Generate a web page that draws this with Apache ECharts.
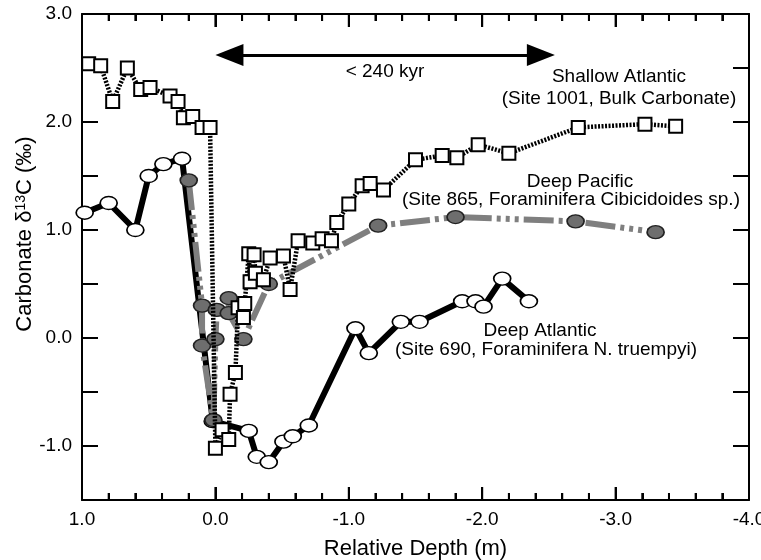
<!DOCTYPE html>
<html>
<head>
<meta charset="utf-8">
<script src="https://cdn.jsdelivr.net/npm/echarts@6/dist/echarts.min.js"></script>
<style>
  html, body { margin: 0; padding: 0; background: #fff; }
  #chart { width: 761px; height: 560px; }
</style>
</head>
<body>
<div id="chart"></div>
<script>
// Shallow Atlantic (Site 1001, bulk carbonate)
const shallowX = [0.95, 0.86, 0.77, 0.66, 0.56, 0.49, 0.34, 0.28, 0.24, 0.17, 0.10, 0.04, 0.00, -0.05, -0.10, -0.11, -0.15, -0.17, -0.21, -0.22, -0.25, -0.26, -0.29, -0.30, -0.36, -0.41, -0.51, -0.56, -0.62, -0.73, -0.80, -0.87, -0.91, -1.00, -1.10, -1.16, -1.26, -1.50, -1.70, -1.81, -1.97, -2.20, -2.72, -3.22, -3.45];
const shallowY = [2.54, 2.52, 2.19, 2.50, 2.30, 2.32, 2.24, 2.19, 2.04, 2.05, 1.95, 1.95, -1.02, -0.85, -0.94, -0.52, -0.32, 0.28, 0.19, 0.32, 0.78, 0.52, 0.77, 0.60, 0.54, 0.74, 0.76, 0.45, 0.90, 0.88, 0.92, 0.90, 1.07, 1.24, 1.41, 1.43, 1.37, 1.65, 1.69, 1.67, 1.79, 1.71, 1.95, 1.98, 1.96];

// Deep Pacific (Site 865, Cibicidoides sp.)
const pacificX = [0.20, 0.10, 0.10, 0.015, 0.00, -0.01, -0.10, -0.10, -0.21, -0.40, -1.22, -1.80, -2.70, -3.30];
const pacificY = [1.46, 0.30, -0.07, -0.76, -0.01, 0.26, 0.37, 0.23, -0.01, 0.50, 1.04, 1.12, 1.08, 0.98];

// Deep Atlantic (Site 690, N. truempyi)
const atlanticX = [0.98, 0.80, 0.60, 0.50, 0.39, 0.25, 0.02, -0.25, -0.31, -0.40, -0.51, -0.58, -0.70, -1.05, -1.15, -1.39, -1.53, -1.85, -1.95, -2.01, -2.15, -2.35];
const atlanticY = [1.16, 1.25, 1.00, 1.50, 1.61, 1.66, -0.77, -0.86, -1.10, -1.15, -0.96, -0.91, -0.81, 0.09, -0.14, 0.15, 0.15, 0.34, 0.34, 0.29, 0.55, 0.34];

// Axis ticks (values)
const xMajorTicks = [1, 0, -1, -2, -3, -4];
const xMinorTicks = [0.8, 0.6, 0.4, 0.2, -0.2, -0.4, -0.6, -0.8, -1.2, -1.4, -1.6, -1.8, -2.2, -2.4, -2.6, -2.8, -3.2, -3.4, -3.6, -3.8];
const yTicks = [-1.5, -1, -0.5, 0, 0.5, 1, 1.5, 2, 2.5, 3];

// Arrow annotation (< 240 kyr), in data units (triangle heads are centred on these ends)
const arrowFromX = -0.105, arrowToX = -2.44, arrowY = 2.62;

const xMin = -4, xMax = 1, xInterval = 1;
const yMin = -1.5, yMax = 3, yInterval = 0.5;

const zip = (xs, ys) => xs.map((x, i) => [x, ys[i]]);
const FONT = '"Liberation Sans", Arial, Helvetica, sans-serif';

function makeXAxis(position, withLabels) {
  const ax = {
    type: 'value', min: xMin, max: xMax, interval: xInterval, inverse: true, position: position,
    axisLine: { show: true, onZero: false, lineStyle: { color: '#000', width: 2 } },
    axisTick: { show: true, inside: true, length: 13, lineStyle: { color: '#000', width: 2 } },
    minorTick: { show: true, splitNumber: 5, length: 7, lineStyle: { color: '#000', width: 2 } },
    splitLine: { show: false }
  };
  if (withLabels) {
    ax.axisLabel = { show: true, margin: 10, fontFamily: FONT, fontSize: 19, color: '#000',
      formatter: v => v.toFixed(1) };
    ax.name = 'Relative Depth (m)';
    ax.nameLocation = 'middle';
    ax.nameGap = 38;
    ax.nameTextStyle = { fontFamily: FONT, fontSize: 22, color: '#000' };
  } else {
    ax.axisLabel = { show: false };
  }
  return ax;
}
function makeYAxis(position, withLabels) {
  const ax = {
    type: 'value', min: yMin, max: yMax, interval: yInterval, position: position,
    axisLine: { show: true, onZero: false, lineStyle: { color: '#000', width: 2 } },
    axisTick: { show: true, inside: true, length: 16, lineStyle: { color: '#000', width: 2 } },
    splitLine: { show: false }
  };
  ax.axisLabel = withLabels
    ? { show: true, margin: 10, fontFamily: FONT, fontSize: 19, color: '#000',
        formatter: v => (Math.abs(v - Math.round(v)) < 1e-9 ? v.toFixed(1) : '') }
    : { show: false };
  return ax;
}

// Inward tick marks on all four sides, positioned through the axes' own scales
function xTickSeries(values, len) {
  return {
    type: 'custom', coordinateSystem: 'cartesian2d', silent: true, clip: false, z: 1,
    data: values.map(v => [v, yMin]),
    renderItem: (params, api) => {
      const v = api.value(0);
      const pb = api.coord([v, yMin]);
      const pt = api.coord([v, yMax]);
      return { type: 'group', children: [
        { type: 'rect', shape: { x: pb[0] - 1, y: pb[1] - len, width: 2, height: len }, style: { fill: '#000' } },
        { type: 'rect', shape: { x: pt[0] - 1, y: pt[1], width: 2, height: len }, style: { fill: '#000' } }
      ] };
    }
  };
}
function yTickSeries(values, len) {
  return {
    type: 'custom', coordinateSystem: 'cartesian2d', silent: true, clip: false, z: 1,
    data: values.map(v => [xMax, v]),
    renderItem: (params, api) => {
      const v = api.value(1);
      const pl = api.coord([xMax, v]);
      const pr = api.coord([xMin, v]);
      return { type: 'group', children: [
        { type: 'rect', shape: { x: pl[0], y: pl[1] - 1, width: len, height: 2 }, style: { fill: '#000' } },
        { type: 'rect', shape: { x: pr[0] - len, y: pr[1] - 1, width: len, height: 2 }, style: { fill: '#000' } }
      ] };
    }
  };
}

const chart = echarts.init(document.getElementById('chart'));

const option = {
  animation: false,
  grid: { left: 82, right: 12, top: 14, bottom: 60, outerBoundsMode: 'none' },
  xAxis: [makeXAxis('bottom', true), makeXAxis('top', false)],
  yAxis: [makeYAxis('left', true), makeYAxis('right', false)],
  series: [
    xTickSeries(xMajorTicks, 13),
    xTickSeries(xMinorTicks, 7),
    yTickSeries(yTicks, 16),
    {
      name: 'Deep Atlantic', type: 'line', z: 2,
      data: zip(atlanticX, atlanticY),
      symbol: 'circle', symbolSize: [17, 13], showAllSymbol: true,
      lineStyle: { color: '#000', width: 6 },
      itemStyle: { color: '#fff', borderColor: '#000', borderWidth: 1.5 },
      clip: false
    },
    {
      name: 'Deep Pacific', type: 'line', z: 3,
      data: zip(pacificX, pacificY),
      symbol: 'circle', symbolSize: [17, 13], showAllSymbol: true,
      lineStyle: { color: '#7f7f7f', width: 6, type: [30, 5, 4, 5, 4, 5, 4, 5] },
      itemStyle: { color: '#6e6e6e', borderColor: '#222', borderWidth: 1.5 },
      clip: false
    },
    {
      name: 'Shallow Atlantic', type: 'line', z: 4,
      data: zip(shallowX, shallowY),
      symbol: 'rect', symbolSize: 13, showAllSymbol: true,
      lineStyle: { color: '#000', width: 4.5, type: [2, 1.5] },
      itemStyle: { color: '#fff', borderColor: '#000', borderWidth: 2 },
      clip: false,
      markLine: {
        silent: true, animation: false,
        symbol: ['triangle', 'triangle'], symbolSize: [22, 28],
        label: { show: false },
        lineStyle: { color: '#000', width: 3, type: 'solid' },
        data: [[{ coord: [arrowFromX, arrowY] }, { coord: [arrowToX, arrowY] }]]
      }
    }
  ],
  graphic: [
    { type: 'text', x: 25, y: 234, rotation: Math.PI / 2,
      style: { text: 'Carbonate δ{s|13}C (‰)', fontFamily: FONT, fontSize: 22, fill: '#000',
        align: 'center', verticalAlign: 'middle',
        rich: { s: { fontFamily: FONT, fontSize: 14, verticalAlign: 'top', fill: '#000' } } } },
    { type: 'text', x: 385, y: 72, style: { text: '< 240 kyr', fontFamily: FONT, fontSize: 19, fill: '#000', align: 'center', verticalAlign: 'middle' } },
    { type: 'text', x: 619, y: 77, style: { text: 'Shallow Atlantic', fontFamily: FONT, fontSize: 19, fill: '#000', align: 'center', verticalAlign: 'middle' } },
    { type: 'text', x: 619, y: 99, style: { text: '(Site 1001, Bulk Carbonate)', fontFamily: FONT, fontSize: 19, fill: '#000', align: 'center', verticalAlign: 'middle' } },
    { type: 'text', x: 580, y: 182, style: { text: 'Deep Pacific', fontFamily: FONT, fontSize: 19, fill: '#000', align: 'center', verticalAlign: 'middle' } },
    { type: 'text', x: 571, y: 200, style: { text: '(Site 865, Foraminifera Cibicidoides sp.)', fontFamily: FONT, fontSize: 19, fill: '#000', align: 'center', verticalAlign: 'middle' } },
    { type: 'text', x: 540, y: 331, style: { text: 'Deep Atlantic', fontFamily: FONT, fontSize: 19, fill: '#000', align: 'center', verticalAlign: 'middle' } },
    { type: 'text', x: 546, y: 350, style: { text: '(Site 690, Foraminifera N. truempyi)', fontFamily: FONT, fontSize: 19, fill: '#000', align: 'center', verticalAlign: 'middle' } }
  ]
};

chart.setOption(option);
</script>
</body>
</html>
